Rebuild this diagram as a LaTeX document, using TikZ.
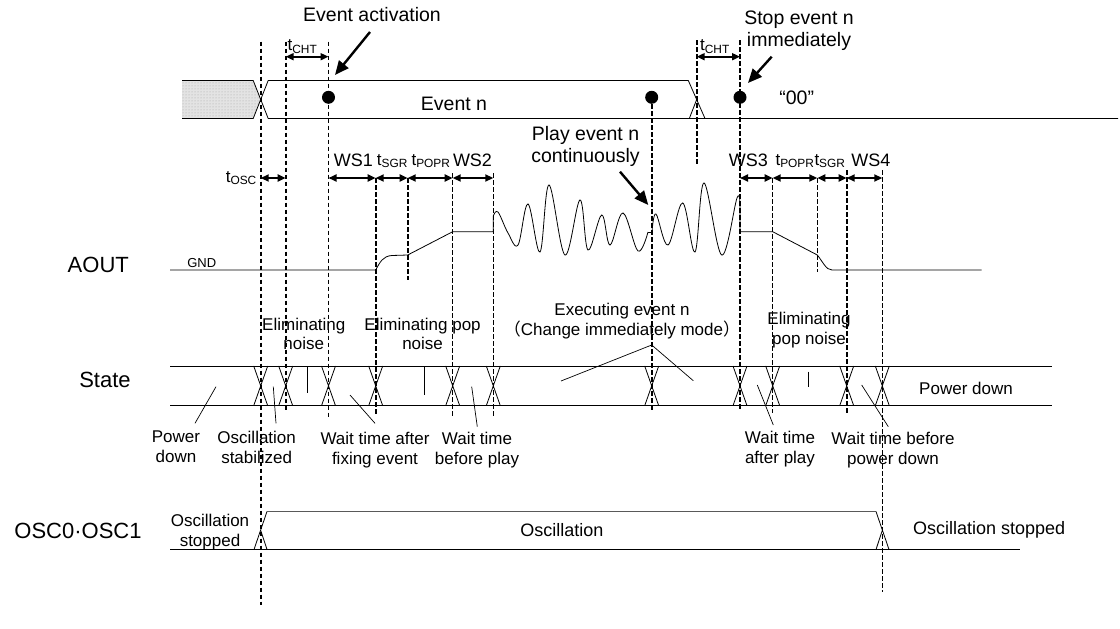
\documentclass[tikz,border=0pt]{standalone}
\usepackage{fontspec}
\setmainfont{Liberation Sans}
\newfontfamily\cjk{Noto Sans CJK SC}
\usetikzlibrary{arrows.meta, positioning, patterns}

\begin{document}
\begin{tikzpicture}[
  x=1pt, y=-1pt,
  sig/.style={line width=0.8pt},
  grid/.style={line width=1.6pt, dash pattern=on 4.5pt off 2.5pt},
  gridthin/.style={line width=1pt, dash pattern=on 4.5pt off 2.5pt},
  dim/.style={{Triangle[length=8pt,width=7pt]}-{Triangle[length=8pt,width=7pt]}, line width=1.8pt},
  callout/.style={-{Triangle[length=14pt,width=12pt]}, line width=2.4pt},
  leader/.style={line width=0.7pt},
  dot/.style={circle, fill, inner sep=0pt, minimum size=13pt},
  lbl/.style={font=\fontsize{17}{20}\selectfont, inner sep=0pt, align=center},
  toplbl/.style={font=\fontsize{19.5}{22}\selectfont, inner sep=0pt, align=center},
  osclbl/.style={font=\fontsize{18}{20}\selectfont, inner sep=0pt},
  big/.style={font=\fontsize{22}{24}\selectfont, inner sep=0pt},
]
\useasboundingbox (0,0) rectangle (1120,629);

% time marks
\def\tA{260.7}  % oscillation start
\def\tB{285.7}
\def\tC{328.5}  % event activation
\def\tD{375.7}
\def\tE{407.7}
\def\tF{452.7}
\def\tG{493.3}  % play start
\def\tH{651.7}  % replay
\def\tI{696.7}
\def\tJ{740.0}  % stop
\def\tK{772.7}
\def\tL{817.3}
\def\tM{846.7}
\def\tN{882.3}  % oscillation stop

% rows
\def\evT{80.5}  \def\evB{118.5}
\def\stT{366}   \def\stB{405.7}
\def\oscT{511.5}\def\oscB{549.5}

% --- dashed time marks ---
\foreach \x/\ya/\yb in {\tA/41.7/605, \tB/41.7/410.7, \tC/41.7/416.7,
  \tD/178/415, \tE/178/280, \tG/173/416.7, \tH/104/410, \tI/40/165,
  \tJ/40/410, \tL/178/271.7, \tM/170/415, \tN/170/592}{
  \draw[grid] (\x,\ya) -- (\x,\yb);
}
\foreach \x/\ya/\yb in {\tF/173/416.7, \tK/178/413}{
  \draw[gridthin] (\x,\ya) -- (\x,\yb);
}

% --- Event bus ---
\fill[gray!22] (182,\evT) -- (253.2,\evT) -- (\tA,99.5) -- (253.2,\evB) -- (182,\evB) -- cycle;
\fill[pattern=dots, pattern color=gray!70] (182,\evT) -- (253.2,\evT) -- (\tA,99.5) -- (253.2,\evB) -- (182,\evB) -- cycle;
\draw[sig] (182,\evT) -- (253.2,\evT) -- (268.2,\evB) -- (1118,\evB);
\draw[sig] (182,\evB) -- (253.2,\evB) -- (268.2,\evT) -- (688.3,\evT) -- (705,\evB);
\draw[sig] (689.3,\evB) -- (\tI,99.5);

\node[dot] (act) at (\tC,97.3) {};
\node[dot] (replay) at (\tH,97.3) {};
\node[dot] (stop) at (\tJ,97.3) {};
\node[toplbl] (evn) at (454,104) {Event n};
\node[toplbl] (zero) at (796.7,98) {“00”};

% --- callouts ---
\node[toplbl] (actlbl) at (372,15) {Event activation};
\node[toplbl] (stoplbl) at (799,31) {Stop event n\\immediately};
\node[toplbl] (playlbl) at (585.5,146) {Play event n\\continuously};
\coordinate (actTail) at (370,32);   \coordinate (actTip) at (335,75);
\coordinate (stopTail) at (771.7,56.7); \coordinate (stopTip) at (748,83);
\coordinate (playTail) at (620,171.7); \coordinate (playTip) at (648.3,205);
\draw[callout] (actTail) -- (actTip);
\draw[callout] (stopTail) -- (stopTip);
\draw[callout] (playTail) -- (playTip);

% --- timing dimensions ---
\draw[dim] (\tB,56.7) -- (\tC,56.7);
\draw[dim] (\tI,56.7) -- (\tJ,56.7);
\node[lbl] (cht1) at (302.5,46.7) {t\textsubscript{CHT}};
\node[lbl] (cht2) at (715,46.7) {t\textsubscript{CHT}};
\draw[dim] (\tA,178) -- (\tB,178);
\node[lbl, anchor=east] (tosc) at (257,178) {t\textsubscript{OSC}};
\foreach \a/\b in {\tC/\tD, \tD/\tE, \tE/\tF, \tF/\tG, \tJ/\tK, \tK/\tL, \tL/\tM, \tM/\tN}{
  \draw[dim] (\a,178) -- (\b,178);
}
\foreach \x/\txt [count=\i] in {353.3/WS1, 472.5/WS2, 748.3/WS3, 870.8/WS4}{
  \node[lbl, font=\fontsize{18}{20}\selectfont] (ws\i) at (\x,160) {\txt};
}
\foreach \x/\txt [count=\i] in {392.5/SGR, 431/POPR, 795/POPR, 830/SGR}{
  \node[lbl] (tw\i) at (\x,161) {t\textsubscript{\txt}};
}

% --- AOUT ---
\node[big] (aout) at (98.3,265) {AOUT};
\node[font=\fontsize{13}{15}\selectfont, inner sep=0pt] (gnd) at (201.7,262.7) {GND};
\draw[sig] (170,270) -- (\tD,270) .. controls (380,262) and (383,256) .. (392,255.5)
  -- (\tE,255) -- (\tF,231.7) -- (\tG,231.7) -- (\tG,216);
\draw[sig] plot[smooth, tension=0.6] coordinates {(\tG,216) (498,212) (508,233) (518,245)
  (528,204) (540,252) (549,185) (565,255) (580,200) (588,250) (601.7,215) (610,245)
  (623,213) (638,251) (648,232)};
\draw[sig] (648,232) -- (652,232);
\draw[sig] plot[smooth, tension=0.6] coordinates {(652,232) (656,214) (668,245)
  (682.7,203) (695,252) (704,183) (721.7,255) (737,198) (\tJ,206)};
\draw[sig] (\tJ,206) -- (\tJ,231.7) -- (\tK,231.7) -- (\tL,255)
  .. controls (823,262) and (826,270) .. (832,270) -- (981.7,270);

% --- State ---
\node[big] (state) at (105,380) {State};
\draw[sig] (170,\stT) -- (1052,\stT);
\draw[sig] (170,\stB) -- (1052,\stB);
\foreach \x in {\tA,\tB,\tC,\tD,\tF,\tG,\tH,\tJ,\tK,\tM,\tN}{
  \draw[sig] (\x-7,\stT) -- (\x+7,\stB) (\x+7,\stT) -- (\x-7,\stB);
}

\node[lbl, font=\fontsize{17}{18.5}\selectfont] (elimA) at (303.8,334) {Eliminating\\noise};
\node[lbl, font=\fontsize{17}{18.5}\selectfont] (elimB) at (422.6,334) {Eliminating pop\\noise};
\node[lbl] (elimC) at (809,330.3) {Eliminating\\pop noise};
\node[lbl] (exec) at (622,321) {Executing event n\\{\cjk （}Change immediately mode{\cjk ）}};
\node[lbl] (pwrL) at (176,447) {Power\\down};
\node[lbl] (oscst) at (256.7,447) {Oscillation\\stabilized};
\node[lbl] (waitfix) at (375,450.5) {Wait time after\\fixing event};
\node[lbl] (waitplay) at (477,450.5) {Wait time\\before play};
\node[lbl] (waitafter) at (780,449) {Wait time\\after play};
\node[lbl] (waitpd) at (893,450) {Wait time before\\power down};
\node[lbl] (pwrR) at (966,388) {Power down};

\draw[leader] (307.7,367) -- (307.7,392.7);
\draw[leader] (424,366) -- (424,395);
\draw[leader] (808.3,371.7) -- (808.3,386.7);
\draw[leader] (195,423.3) -- (216,386.7);
\draw[leader] (276,423.3) -- (273.3,386.7);
\draw[leader] (375,423.3) -- (350,395);
\draw[leader] (477.3,426.7) -- (471.7,386.7);
\draw[leader] (561,381) -- (\tH,345) -- (693.3,380.7);
\draw[leader] (773.3,425) -- (757.3,385);
\draw[leader] (888.3,426.7) -- (861.7,385);

% --- OSC0/OSC1 ---
\node[big] (osc) at (78,531) {OSC0·OSC1};
\draw[sig] (170,\oscB) -- (1020,\oscB);
\draw[sig] (254,\oscB) -- (267,\oscT);
\draw[sig, black!65, line width=1.2pt] (267,\oscT) -- (876,\oscT);
\draw[sig] (876,\oscT) -- (889,\oscB);
\draw[sig] (\tA,530.5) -- (267,\oscB);
\draw[sig] (876,\oscB) -- (\tN,530.5);
\node[lbl] (oscoff) at (210,532) {Oscillation\\stopped};
\node[osclbl] (oscon) at (562,530) {Oscillation};
\node[osclbl, anchor=west] (oscoff2) at (913,530) {Oscillation stopped};

\end{tikzpicture}
\end{document}
